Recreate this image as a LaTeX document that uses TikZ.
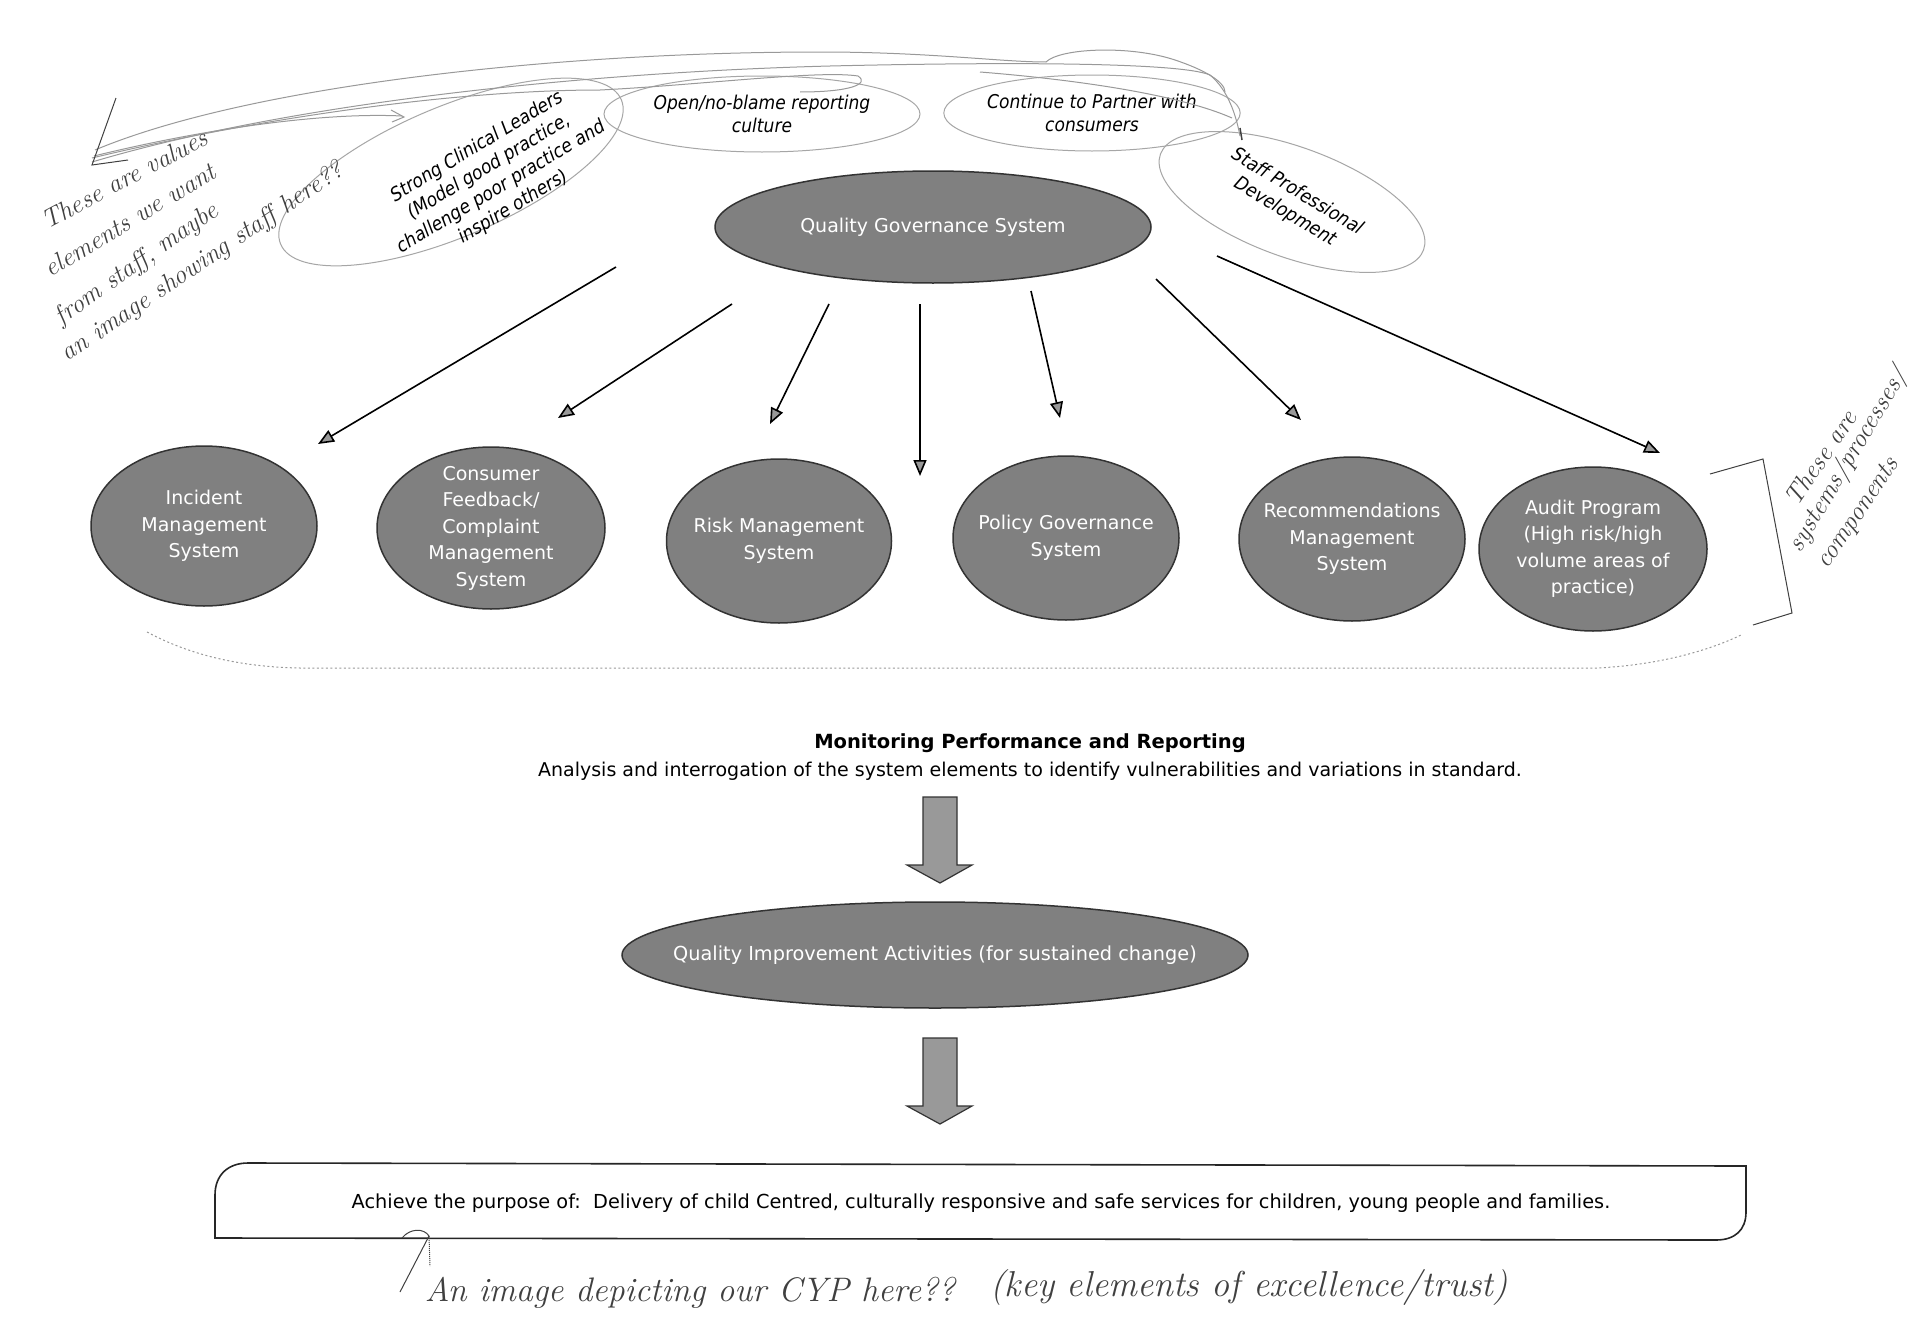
\documentclass[tikz,border=0pt]{standalone}
\usepackage{fontspec}
\newfontfamily\dv{DejaVu Sans}
\newfontfamily\dvc{DejaVu Sans}[FakeStretch=0.9]
\usetikzlibrary{arrows.meta,shapes.geometric}
\begin{document}
\begin{tikzpicture}[x=1pt,y=-1pt,
 sysell/.style={ellipse, draw=black!80, line width=1.5pt, fill=black!50, text=white, inner sep=-60pt, align=center, font=\dv\fontsize{19}{26.5}\selectfont},
 valell/.style={ellipse, draw=black!35, line width=1pt, inner sep=0pt, align=center, font=\dvc\itshape\fontsize{19}{22.5}\selectfont},
 valtext/.style={align=center, inner sep=0pt, font=\dvc\itshape\fontsize{19}{23.5}\selectfont},
 linkarrow/.style={line width=1.6pt, -{Triangle[length=16pt,width=13pt,fill=black!40]}},
 blockarrow/.style={draw=black!80, line width=1.2pt, fill=black!40},
 pencil/.style={draw=black!40, line width=1pt},
 pen/.style={draw=black!75, line width=1pt},
 hand/.style={text=black!75, inner sep=0pt, font=\itshape\fontsize{26}{30}\selectfont},
 bodytext/.style={inner sep=0pt, align=center, font=\dv\fontsize{19}{23}\selectfont}
]
\fill[white] (0,0) rectangle (1920,1341);
\useasboundingbox (0,0) rectangle (1920,1341);

% ---- value ellipses (top) ----
\node[valell, minimum width=370, minimum height=130, rotate=23] (strong) at (451,172) {};
\node[valtext, rotate=31] (strongtxt) at (495,177) {Strong Clinical Leaders\\(Model good practice,\\challenge poor practice and\\inspire others)};
\node[valell, minimum width=316, minimum height=76] (open) at (762,114) {Open/no-blame reporting\\culture};
\node[valell, minimum width=290, minimum height=76] (partner) at (1092,113) {Continue to Partner with\\consumers};
\node[valell, minimum width=280, minimum height=110, rotate=-20] (staff) at (1292,202) {};
\node[valtext, rotate=-31] (stafftxt) at (1291,202) {Staff Professional\\Development};

% ---- handwritten pencil loops (top) ----
\path[pencil] (95,150) .. controls (250,85) and (560,52) .. (820,52) .. controls (930,52) and (1000,62) .. (1046,62) .. controls (1060,48) and (1130,45) .. (1175,60) .. controls (1205,70) and (1225,82) .. (1225,92);
\path[pencil] (92,162) .. controls (300,100) and (600,72) .. (830,66) .. controls (1000,62) and (1180,62) .. (1210,75) .. controls (1228,90) and (1236,115) .. (1240,136);
\path[pencil] (92,158) .. controls (250,120) and (450,90) .. (600,90) .. controls (700,85) and (820,70) .. (858,76) .. controls (870,84) and (850,92) .. (800,92);
\path[pencil] (94,156) .. controls (200,130) and (320,112) .. (402,116);
\path[pencil] (391,110) -- (404,117) -- (392,122);
\path[pencil] (980,72) .. controls (1080,80) and (1180,95) .. (1232,118);
\path[pen] (116,98) -- (92,165) -- (128,160);
\path[pen, line width=1.5pt] (1240,128) -- (1242,140);

% ---- handwriting left ----
\node[hand, anchor=west, rotate=28] (hl1) at (43,222) {These are values};
\node[hand, anchor=west, rotate=31] (hl2) at (46,270) {elements we want};
\node[hand, anchor=west, rotate=35] (hl3) at (58,320) {from staff, maybe};
\node[hand, anchor=west, rotate=34] (hl4) at (64,356) {an image showing staff here??};

% ---- central system ----
\node[sysell, minimum width=436, minimum height=112] (qgs) at (933,227) {Quality Governance System};

% ---- system components ----
\node[sysell, minimum width=226, minimum height=160] (c1) at (204,526) {Incident\\Management\\System};
\node[sysell, minimum width=228, minimum height=162] (c2) at (491,528) {Consumer\\Feedback/\\Complaint\\Management\\System};
\node[sysell, minimum width=225, minimum height=164] (c3) at (779,541) {Risk Management\\System};
\node[sysell, minimum width=226, minimum height=164] (c4) at (1066,538) {Policy Governance\\System};
\node[sysell, minimum width=226, minimum height=164] (c5) at (1352,539) {Recommendations\\Management\\System};
\node[sysell, minimum width=228, minimum height=164] (c6) at (1593,549) {Audit Program\\(High risk/high\\volume areas of\\practice)};

% ---- arrows from QGS ----
\coordinate (s1) at (616,267); \coordinate (e1) at (318,444);
\coordinate (s2) at (732,304); \coordinate (e2) at (558,418);
\coordinate (s3) at (829,304); \coordinate (e3) at (770,424);
\coordinate (s4) at (920,304); \coordinate (e4) at (920,476);
\coordinate (s5) at (1031,291); \coordinate (e5) at (1060,418);
\coordinate (s6) at (1156,279); \coordinate (e6) at (1301,420);
\coordinate (s7) at (1217,256); \coordinate (e7) at (1660,453);
\foreach \i in {1,...,7} \draw[linkarrow] (s\i) -- (e\i);

% ---- dotted underline ----
\draw[black!40, dash pattern=on 2pt off 2.5pt, line width=1pt] (147,632) .. controls (190,655) and (240,667) .. (300,668) -- (1597,668) .. controls (1660,665) and (1710,650) .. (1741,635);

% ---- bracket + handwriting right ----
\path[pen] (1710,474) -- (1763,459) -- (1792,613) -- (1753,625);
\node[hand, anchor=west, rotate=56] (hr1) at (1790,503) {These are};
\node[hand, anchor=west, rotate=59] (hr2) at (1795,550) {systems/processes/};
\node[hand, anchor=west, rotate=56] (hr3) at (1823,567) {components};

% ---- monitoring ----
\node[inner sep=0pt, font=\dv\bfseries\fontsize{19.5}{23}\selectfont] (mon) at (1030,743) {Monitoring Performance and Reporting};
\node[bodytext] (ana) at (1030,771) {Analysis and interrogation of the system elements to identify vulnerabilities and variations in standard.};

\draw[blockarrow] (923,797) -- (957,797) -- (957,865) -- (972,865) -- (940,883) -- (907,865) -- (923,865) -- cycle;

\node[sysell, minimum width=626, minimum height=106, font=\dv\fontsize{19.3}{23}\selectfont] (qia) at (935,955) {Quality Improvement Activities (for sustained change)};

\draw[blockarrow] (923,1038) -- (957,1038) -- (957,1106) -- (972,1106) -- (940,1124) -- (907,1106) -- (923,1106) -- cycle;

% ---- purpose box ----
\node[bodytext, font=\dv\fontsize{19.3}{23}\selectfont] (purpose) at (981,1203) {Achieve the purpose of:\ \ Delivery of child Centred, culturally responsive and safe services for children, young people and families.};
\draw[black!85, line width=1.6pt] (215,1238) -- (215,1195) .. controls (215,1175) and (228,1163) .. (248,1163) -- (1746,1166) -- (1746,1212) .. controls (1746,1230) and (1735,1240) .. (1716,1240) -- cycle;

% ---- handwriting bottom ----
\path[pen] (400,1292) -- (429,1236);
\path[pen] (402,1238) .. controls (410,1228) and (424,1228) .. (429,1236);
\path[pen, densely dotted] (429,1236) -- (430,1266);
\node[hand, font=\itshape\fontsize{34}{38}\selectfont] (hb1) at (690,1293) {An image depicting our CYP here??};
\node[hand, font=\itshape\fontsize{36}{40}\selectfont] (hb2) at (1249,1288) {(key elements of excellence/trust)};
\end{tikzpicture}
\end{document}
